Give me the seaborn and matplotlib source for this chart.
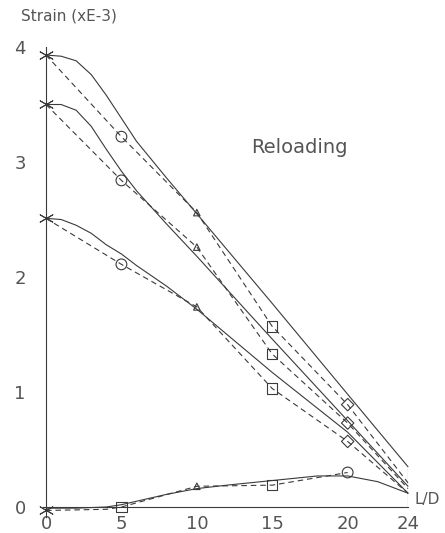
import numpy as np
import pandas as pd
import seaborn as sns
import matplotlib
matplotlib.use("Agg")
import matplotlib.pyplot as plt

# measured points (dashed lines with markers)
x_meas = [0, 5, 10, 15, 20, 24]
meas_1 = [3.93, 3.22, 2.56, 1.57, 0.89, 0.21]
meas_2 = [3.50, 2.84, 2.26, 1.33, 0.73, 0.16]
meas_3 = [2.51, 2.11, 1.74, 1.03, 0.57, 0.12]
x_meas_4 = [0, 4, 5, 10, 15, 20]
meas_4 = [-0.03, -0.02, 0.0, 0.18, 0.19, 0.30]

# computed curves (solid lines)
x_calc = [0, 1, 2, 3, 4, 5, 6, 8, 10, 15, 20, 24]
calc_1 = [3.93, 3.92, 3.88, 3.76, 3.58, 3.38, 3.18, 2.86, 2.55, 1.77, 0.98, 0.35]
calc_2 = [3.50, 3.50, 3.45, 3.31, 3.11, 2.92, 2.75, 2.46, 2.18, 1.46, 0.75, 0.18]
calc_3 = [2.51, 2.50, 2.45, 2.38, 2.28, 2.20, 2.10, 1.92, 1.72, 1.17, 0.65, 0.12]
x_calc_4 = [0, 2, 4, 5, 6, 8, 10, 12, 15, 18, 20, 22, 24]
calc_4 = [-0.01, -0.01, 0.0, 0.02, 0.05, 0.11, 0.16, 0.19, 0.23, 0.27, 0.27, 0.22, 0.12]

# marker kinds at x = 0, 5, 10, 15, 20
kinds = ["star", "circle", "triangle", "square", "diamond"]
kinds_4 = ["star", "square", "triangle", "square", "circle"]
x_mark = [0, 5, 10, 15, 20]
mark_4 = [-0.03, 0.0, 0.18, 0.19, 0.30]

ink = "#3a3a3a"
txt = "#555555"
sns.set_style("white")

fig = plt.figure(figsize=(4.45, 5.33), dpi=100)
ax = fig.add_axes([46 / 445, (533 - 507) / 533, 362 / 445, 460 / 533])

dash = (5, 3.5)
for xs, ys in [(x_calc, calc_1), (x_calc, calc_2), (x_calc, calc_3), (x_calc_4, calc_4)]:
    sns.lineplot(x=xs, y=ys, ax=ax, color=ink, linewidth=0.8, sort=False,
                 estimator=None, clip_on=False)
for xs, ys in [(x_meas, meas_1), (x_meas, meas_2), (x_meas, meas_3), (x_meas_4, meas_4)]:
    sns.lineplot(x=xs, y=ys, ax=ax, color=ink, linewidth=0.8, sort=False,
                 estimator=None, clip_on=False).lines[-1].set_dashes(dash)

# vertical closing line at L/D = 24
ax.plot([24, 24], [0, calc_1[-1]], color=ink, linewidth=0.8)

rows = []
for ys in [meas_1, meas_2, meas_3]:
    for xv, yv, k in zip(x_mark, ys[:5], kinds):
        rows.append((xv, yv, k))
for xv, yv, k in zip(x_mark, mark_4, kinds_4):
    rows.append((xv, yv, k))
marks = pd.DataFrame(rows, columns=["x", "y", "kind"])

shapes = {"star": (6, 2, 0), "circle": "o", "triangle": "^", "square": "s", "diamond": "D"}
sizes = {"star": 110, "circle": 60, "triangle": 22, "square": 55, "diamond": 40}
for k, m in shapes.items():
    sub = marks[marks["kind"] == k]
    if k == "star":
        sns.scatterplot(data=sub, x="x", y="y", ax=ax, marker=m, s=sizes[k],
                        color=ink, linewidth=0.7, clip_on=False, zorder=3)
    else:
        sns.scatterplot(data=sub, x="x", y="y", ax=ax, marker=m, s=sizes[k],
                        facecolors="none", edgecolors=ink, linewidth=0.8,
                        clip_on=False, zorder=3)

ax.set_xlim(0, 24)
ax.set_ylim(0, 4)
ax.set_xticks([0, 5, 10, 15, 20, 24])
ax.set_yticks([0, 1, 2, 3, 4])
ax.set_xlabel("")
ax.set_ylabel("")
for s in ["top", "right"]:
    ax.spines[s].set_visible(False)
for s in ["left", "bottom"]:
    ax.spines[s].set_color(ink)
    ax.spines[s].set_linewidth(0.8)
ax.spines["left"].set_bounds(-0.05, 4.0)
ax.spines["bottom"].set_bounds(-0.2, 24)
ax.tick_params(direction="inout", length=9, width=0.8, color=ink,
               labelcolor=txt, labelsize=13)
ax.tick_params(axis="y", pad=10)
ax.tick_params(axis="x", pad=1)
ax.set_facecolor("white")

ax.text(-0.07, 1.068, "Strain (xE-3)", transform=ax.transAxes, fontsize=11,
        color=txt, ha="left", va="center")
ax.text(24.45, 0.0, "L/D", fontsize=11, color=txt, ha="left", va="bottom")
ax.text(16.8, 3.13, "Reloading", fontsize=14, color=txt, ha="center", va="center")

fig.savefig("out.png", dpi=100, facecolor="white")
